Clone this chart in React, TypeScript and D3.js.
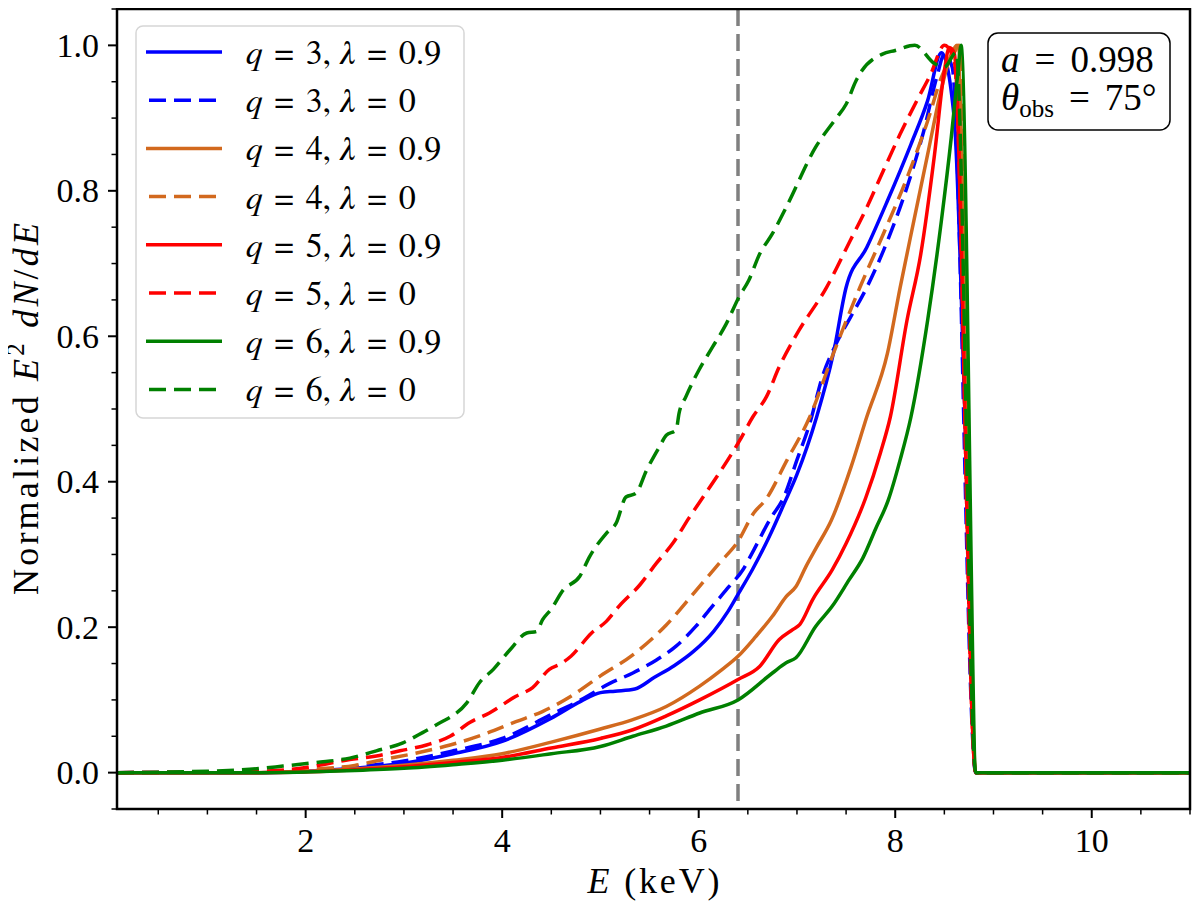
import React from "react";
import * as d3 from "d3";

type Pt = [number, number];

// q = 3, lambda = 0.9
const q3l09: Pt[] = [
  [0.08, 0], [1.5, 0], [2.0, 0.002], [2.5, 0.006], [3.0, 0.013], [3.5, 0.026], [4.0, 0.043],
  [4.5, 0.075], [4.8, 0.098], [5.0, 0.11], [5.15, 0.112], [5.35, 0.115], [5.55, 0.131],
  [5.75, 0.147], [5.95, 0.167], [6.15, 0.194], [6.3, 0.222], [6.4, 0.245], [6.55, 0.28],
  [6.72, 0.325], [6.87, 0.37], [7.0, 0.41], [7.2, 0.489], [7.37, 0.576], [7.5, 0.667],
  [7.71, 0.722], [7.92, 0.786], [8.16, 0.864], [8.33, 0.924], [8.47, 0.99], [8.6, 0.9],
  [8.71, 0.49], [8.82, 0], [11.2, 0],
];
// q = 3, lambda = 0
const q3l0: Pt[] = [
  [0.08, 0], [1.5, 0.0005], [2.0, 0.003], [2.5, 0.008], [3.0, 0.016], [3.5, 0.03], [4.0, 0.047],
  [4.5, 0.08], [4.8, 0.1], [5.1, 0.123], [5.33, 0.137], [5.57, 0.155], [5.77, 0.174],
  [5.97, 0.201], [6.14, 0.229], [6.31, 0.256], [6.45, 0.279], [6.56, 0.306], [6.72, 0.347],
  [6.87, 0.38], [7.0, 0.43], [7.13, 0.48], [7.26, 0.545], [7.4, 0.59], [7.54, 0.625],
  [7.71, 0.667], [7.92, 0.731], [8.12, 0.805], [8.29, 0.882], [8.43, 0.96], [8.5, 0.988],
  [8.58, 0.97], [8.82, 0], [11.2, 0],
];
// q = 4, lambda = 0.9
const q4l09: Pt[] = [
  [0.08, 0], [1.5, 0], [2.0, 0.002], [2.5, 0.005], [3.0, 0.01], [3.5, 0.017], [4.0, 0.026],
  [4.5, 0.042], [5.0, 0.06], [5.33, 0.073], [5.67, 0.091], [6.01, 0.119], [6.24, 0.142],
  [6.4, 0.16], [6.58, 0.187], [6.75, 0.215], [6.89, 0.242], [6.99, 0.256], [7.09, 0.283],
  [7.2, 0.31], [7.35, 0.347], [7.55, 0.42], [7.71, 0.489], [7.92, 0.576], [8.05, 0.667],
  [8.19, 0.759], [8.33, 0.85], [8.47, 0.94], [8.57, 0.988], [8.63, 1.0], [8.82, 0], [11.2, 0],
];
// q = 4, lambda = 0
const q4l0: Pt[] = [
  [0.08, 0], [1.5, 0.001], [2.0, 0.004], [2.5, 0.01], [2.79, 0.018], [3.13, 0.027],
  [3.47, 0.038], [3.8, 0.052], [4.14, 0.07], [4.41, 0.084], [4.7, 0.105], [5.0, 0.133],
  [5.33, 0.162], [5.67, 0.203], [5.97, 0.25], [6.21, 0.288], [6.4, 0.318], [6.56, 0.357],
  [6.68, 0.375], [6.9, 0.43], [7.13, 0.489], [7.37, 0.576], [7.64, 0.667], [7.88, 0.741],
  [8.12, 0.818], [8.33, 0.896], [8.47, 0.956], [8.6, 0.99], [8.65, 1.0], [8.82, 0], [11.2, 0],
];
// q = 5, lambda = 0.9
const q5l09: Pt[] = [
  [0.08, 0], [1.5, 0], [2.0, 0.001], [2.5, 0.004], [3.0, 0.008], [3.5, 0.014], [4.0, 0.021],
  [4.5, 0.034], [5.0, 0.047], [5.33, 0.059], [5.67, 0.078], [6.01, 0.1], [6.4, 0.128],
  [6.62, 0.146], [6.82, 0.183], [6.96, 0.197], [7.03, 0.204], [7.16, 0.238], [7.36, 0.279],
  [7.5, 0.315], [7.7, 0.378], [7.85, 0.44], [7.95, 0.489], [8.12, 0.622], [8.26, 0.713],
  [8.4, 0.85], [8.5, 0.965], [8.55, 0.997], [8.6, 0.99], [8.82, 0], [11.2, 0],
];
// q = 5, lambda = 0
const q5l0: Pt[] = [
  [0.08, 0], [1.5, 0.002], [2.0, 0.007], [2.21, 0.012], [2.45, 0.018], [2.72, 0.023],
  [2.96, 0.03], [3.23, 0.038], [3.47, 0.05], [3.67, 0.069], [3.87, 0.082], [4.14, 0.105],
  [4.31, 0.117], [4.48, 0.142], [4.6, 0.15], [4.7, 0.16], [4.91, 0.192], [5.06, 0.208],
  [5.19, 0.229], [5.4, 0.258], [5.57, 0.288], [5.74, 0.316], [5.9, 0.35], [6.05, 0.38],
  [6.2, 0.41], [6.41, 0.455], [6.55, 0.489], [6.69, 0.517], [6.82, 0.558], [6.96, 0.594],
  [7.02, 0.608], [7.3, 0.667], [7.54, 0.731], [7.71, 0.777], [7.88, 0.828], [8.05, 0.878],
  [8.22, 0.924], [8.36, 0.96], [8.5, 1.0], [8.6, 0.98], [8.82, 0], [11.2, 0],
];
// q = 6, lambda = 0.9
const q6l09: Pt[] = [
  [0.08, 0], [1.5, 0], [2.0, 0.001], [2.5, 0.003], [3.0, 0.006], [3.5, 0.011], [4.0, 0.017],
  [4.5, 0.026], [5.0, 0.036], [5.33, 0.05], [5.67, 0.064], [6.01, 0.082], [6.4, 0.1],
  [6.75, 0.137], [6.89, 0.151], [6.99, 0.158], [7.19, 0.201], [7.36, 0.229], [7.53, 0.265],
  [7.67, 0.295], [7.8, 0.335], [7.93, 0.375], [8.05, 0.43], [8.16, 0.489], [8.33, 0.622],
  [8.47, 0.759], [8.57, 0.873], [8.64, 0.965], [8.67, 1.0], [8.83, 0], [11.2, 0],
];
// q = 6, lambda = 0
const q6l0: Pt[] = [
  [0.08, 0], [1.0, 0.002], [1.43, 0.0045], [1.77, 0.009], [2.11, 0.014], [2.45, 0.02],
  [2.72, 0.03], [2.99, 0.041], [3.19, 0.055], [3.4, 0.071], [3.47, 0.076], [3.64, 0.096],
  [3.77, 0.124], [3.91, 0.142], [4.08, 0.169], [4.25, 0.192], [4.35, 0.194], [4.41, 0.21],
  [4.5, 0.225], [4.62, 0.251], [4.79, 0.27], [4.89, 0.297], [5.06, 0.329], [5.16, 0.343],
  [5.26, 0.379], [5.36, 0.384], [5.47, 0.416], [5.6, 0.448], [5.67, 0.464], [5.77, 0.471],
  [5.8, 0.494], [5.87, 0.517], [6.0, 0.553], [6.14, 0.585], [6.28, 0.617], [6.41, 0.654],
  [6.51, 0.677], [6.62, 0.713], [6.75, 0.741], [6.9, 0.78], [7.19, 0.86], [7.4, 0.9],
  [7.5, 0.919], [7.6, 0.951], [7.66, 0.965], [7.87, 0.988], [8.0, 0.993], [8.2, 1.0],
  [8.4, 0.975], [8.5, 0.97], [8.62, 0.99], [8.82, 0], [11.2, 0],
];

const qValues = ["3", "3", "4", "4", "5", "5", "6", "6"];
const lambdaValues = ["0.9", "0", "0.9", "0", "0.9", "0", "0.9", "0"];
const seriesData = [q3l09, q3l0, q4l09, q4l0, q5l09, q5l0, q6l09, q6l0];
const colors = ["#0000ff", "#0000ff", "#d2691e", "#d2691e", "#ff0000", "#ff0000", "#008000", "#008000"];
const dashedFlags = [false, true, false, true, false, true, false, true];

const xMajorTicks = [2, 4, 6, 8, 10];
const yMajorTicks = [0, 0.2, 0.4, 0.6, 0.8, 1.0];
const xDomain = [0.08, 11];
const yDomain = [-0.05, 1.05];
const lineEnergy = 6.4;

export default function App() {
  // coordinates are relative to the svg, which sits at the body's 8px margin
  const left = 109, right = 1182, top = 1, bottom = 801;
  const x = d3.scaleLinear().domain(xDomain).range([left, right]);
  const y = d3.scaleLinear().domain(yDomain).range([bottom, top]);
  const line = d3.line<Pt>().x((d) => x(d[0])).y((d) => y(d[1])).curve(d3.curveMonotoneX);

  const xMinor = d3.range(0.5, 11.001, 0.5).filter((v) => Math.abs(v / 2 - Math.round(v / 2)) > 1e-6);
  const yMinor = d3.range(-0.05, 1.0501, 0.05).filter((v) => Math.abs(v / 0.2 - Math.round(v / 0.2)) > 1e-6);

  const legendRows = d3.range(8).map((i) => 44 + i * 48.2);

  return (
    <svg width={1184} height={893}>
      <rect x={0} y={0} width={1184} height={893} fill="#fff" />
      <defs>
        <clipPath id="plotclip">
          <rect x={left} y={top} width={right - left} height={bottom - top} />
        </clipPath>
      </defs>
      <g clipPath="url(#plotclip)">
        <line x1={x(lineEnergy)} x2={x(lineEnergy)} y1={top} y2={bottom} stroke="#808080" strokeWidth={3.5} strokeDasharray="17,8" />
        {seriesData.map((d, i) => (
          <path key={i} d={line(d) || ""} fill="none" stroke={colors[i]} strokeWidth={3.5}
            strokeDasharray={dashedFlags[i] ? "17,8" : undefined} strokeLinejoin="round" />
        ))}
      </g>
      <rect x={left} y={top} width={right - left} height={bottom - top} fill="none" stroke="#000" strokeWidth={2.5} />
      {xMajorTicks.map((t) => (
        <g key={"xm" + t}>
          <line x1={x(t)} x2={x(t)} y1={bottom} y2={bottom + 9} stroke="#000" strokeWidth={2} />
          <text x={x(t)} y={844} textAnchor="middle" fontSize={34} fontFamily="Times New Roman">{String(t)}</text>
        </g>
      ))}
      {xMinor.map((t) => (
        <line key={"xn" + t} x1={x(t)} x2={x(t)} y1={bottom} y2={bottom + 5.5} stroke="#000" strokeWidth={1.5} />
      ))}
      {yMajorTicks.map((t) => (
        <g key={"ym" + t}>
          <line x1={left - 9} x2={left} y1={y(t)} y2={y(t)} stroke="#000" strokeWidth={2} />
          <text x={91} y={y(t) + 11.5} textAnchor="end" fontSize={34} fontFamily="Liberation Serif">{t.toFixed(1)}</text>
        </g>
      ))}
      {yMinor.map((t) => (
        <line key={"yn" + t.toFixed(2)} x1={left - 5.5} x2={left} y1={y(t)} y2={y(t)} stroke="#000" strokeWidth={1.5} />
      ))}
      <text x={(left + right) / 2} y={885} textAnchor="middle" fontSize={36} fontFamily="Nimbus Roman"
        textLength={132} lengthAdjust="spacing">
        <tspan fontStyle="italic">E</tspan>
        <tspan>{" (keV)"}</tspan>
      </text>
      <text transform={`translate(30,${(top + bottom) / 2}) rotate(-90)`} textAnchor="middle" fontSize={36}
        fontFamily="Tinos" textLength={372} lengthAdjust="spacing">
        <tspan>{"Normalized "}</tspan>
        <tspan fontStyle="italic">E</tspan>
        <tspan fontSize={25} dy={-14}>2</tspan>
        <tspan dy={14}>{" "}</tspan>
        <tspan fontStyle="italic">{"dN"}</tspan>
        <tspan>/</tspan>
        <tspan fontStyle="italic">{"dE"}</tspan>
      </text>
      <rect x={128} y={18} width={328} height={392} rx={7} fill="#fff" fillOpacity={0.85} stroke="#d6d6d6" strokeWidth={1.5} />
      {legendRows.map((cy, i) => (
        <g key={"lg" + i}>
          <line x1={138} x2={214} y1={cy} y2={cy} stroke={colors[i]} strokeWidth={3.5}
            strokeDasharray={dashedFlags[i] ? "17,8" : undefined} strokeDashoffset={dashedFlags[i] ? -3 : 0} />
          <text x={238} y={cy + 12} fontSize={34} fontFamily="FreeSerif">
            <tspan fontStyle="italic">q</tspan>
            <tspan dx={12}>=</tspan>
            <tspan dx={12}>{qValues[i] + ","}</tspan>
            <tspan dx={8} fontStyle="italic">λ</tspan>
            <tspan dx={12}>=</tspan>
            <tspan dx={12}>{lambdaValues[i]}</tspan>
          </text>
        </g>
      ))}
      <rect x={980} y={25} width={182} height={97} rx={10} fill="#fff" stroke="#000" strokeWidth={1.5} />
      <text x={993} y={64} fontSize={37} fontFamily="serif">
        <tspan fontStyle="italic">a</tspan>
        <tspan dx={15}>=</tspan>
        <tspan dx={15}>0.998</tspan>
      </text>
      <text x={993} y={102} fontSize={37} fontFamily="serif">
        <tspan fontStyle="italic">θ</tspan>
        <tspan fontSize={25} dy={7}>obs</tspan>
        <tspan dy={-7} dx={15}>=</tspan>
        <tspan dx={15}>75°</tspan>
      </text>
    </svg>
  );
}
